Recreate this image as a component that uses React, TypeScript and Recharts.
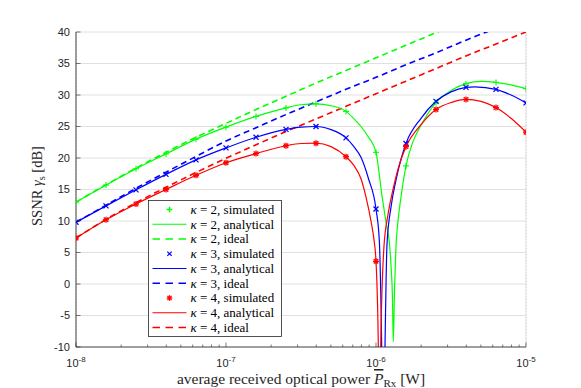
import React from 'react';
import { LineChart, Line, XAxis, YAxis, CartesianGrid, Legend } from 'recharts';

// received optical power grid of the simulation points (W)
const P_SIM = [1e-8, 1.585e-8, 2.512e-8, 3.981e-8, 6.31e-8, 1e-7, 1.585e-7, 2.512e-7, 3.981e-7, 6.31e-7, 1e-6, 1.585e-6, 2.512e-6, 3.981e-6, 6.31e-6, 1e-5];
const SIM_K2 = [13.0, 15.7, 18.3, 20.65, 23.0, 24.9, 26.6, 27.95, 28.6, 27.4, 20.9, 18.75, 28.8, 31.8, 32.0, 31.0];
const SIM_K3 = [9.8, 12.4, 14.95, 17.4, 19.7, 21.6, 23.3, 24.55, 25.0, 23.2, 11.9, 22.3, 29.0, 31.2, 30.9, 28.75];
const SIM_K4 = [7.3, 10.2, 12.7, 15.0, 17.25, 19.25, 20.7, 21.95, 22.35, 20.2, 3.6, 21.8, 27.7, 29.3, 28.0, 24.1];

// analytical curves (denser near the notch)
const ANA_K2_P = [1e-8, 1.585e-8, 2.512e-8, 3.981e-8, 6.31e-8, 1e-7, 1.585e-7, 2.512e-7, 3.162e-7, 3.981e-7, 5.012e-7, 6.31e-7, 7.079e-7, 7.943e-7, 8.913e-7, 1e-6, 1.0965e-6, 1.166e-6, 1.2266e-6, 1.2589e-6, 1.2882e-6, 1.304e-6, 1.3284e-6, 1.3594e-6, 1.4019e-6, 1.4678e-6, 1.585e-6, 1.765e-6, 1.995e-6, 2.512e-6, 3.162e-6, 3.981e-6, 5.012e-6, 6.31e-6, 7.943e-6, 1e-5];
const ANA_K2 = [13.0, 15.7, 18.3, 20.65, 23.0, 24.9, 26.6, 27.95, 28.45, 28.6, 28.3, 27.4, 26.3, 25.0, 23.3, 20.9, 14.0, 9.8, 6.6, 3.0, -2.5, -9.2, -1.0, 6.0, 10.0, 13.8, 18.75, 22.6, 25.2, 28.8, 30.7, 31.8, 32.15, 32.0, 31.6, 31.0];

const ANA_K3_P = [1e-8, 1.585e-8, 2.512e-8, 3.981e-8, 6.31e-8, 1e-7, 1.585e-7, 2.512e-7, 3.162e-7, 3.981e-7, 5.012e-7, 6.31e-7, 7.079e-7, 7.943e-7, 8.913e-7, 1e-6, 1.052e-6, 1.0914e-6, 1.1186e-6, 1.1482e-6, 1.1839e-6, 1.2589e-6, 1.3594e-6, 1.4678e-6, 1.585e-6, 1.995e-6, 2.512e-6, 3.162e-6, 3.981e-6, 4.571e-6, 6.31e-6, 7.943e-6, 1e-5];
const ANA_K3 = [9.8, 12.4, 14.95, 17.4, 19.7, 21.6, 23.3, 24.55, 24.9, 25.0, 24.5, 23.2, 21.9, 20.1, 16.7, 11.9, 6.9, -10, -30, -10, 6.3, 12.2, 16.5, 19.8, 22.3, 26.3, 29.0, 30.5, 31.2, 31.3, 30.9, 30.0, 28.75];

const ANA_K4_P = [1e-8, 1.585e-8, 2.512e-8, 3.981e-8, 6.31e-8, 1e-7, 1.585e-7, 2.512e-7, 3.162e-7, 3.981e-7, 5.012e-7, 6.31e-7, 7.079e-7, 7.943e-7, 8.577e-7, 9.26e-7, 9.698e-7, 1e-6, 1.0359e-6, 1.0551e-6, 1.0747e-6, 1.1305e-6, 1.2023e-6, 1.2981e-6, 1.4235e-6, 1.585e-6, 1.995e-6, 2.512e-6, 3.162e-6, 3.981e-6, 5.012e-6, 6.31e-6, 7.943e-6, 1e-5];
const ANA_K4 = [7.3, 10.2, 12.7, 15.0, 17.25, 19.25, 20.7, 21.95, 22.3, 22.35, 21.8, 20.2, 18.9, 16.7, 13.8, 10.0, 7.0, 3.6, -9.7, -30, -10, 6.0, 11.0, 15.0, 18.8, 21.8, 25.3, 27.7, 28.8, 29.3, 29.0, 28.0, 26.3, 24.1];

// ideal (no interference) curves
const IDEAL_K2 = [13.0, 15.75, 18.4, 20.9, 23.3, 25.5, 27.7, 29.8, 31.9, 33.9, 35.9, 37.9, 39.9, 41.9, 43.9, 45.9];
const IDEAL_K3 = [9.8, 12.5, 15.2, 17.75, 20.25, 22.7, 24.8, 26.9, 28.9, 30.9, 32.8, 34.8, 36.7, 38.7, 40.6, 42.5];
const IDEAL_K4 = [7.3, 10.25, 12.9, 15.35, 17.7, 19.95, 22.1, 24.2, 26.2, 28.2, 30.2, 32.2, 34.2, 36.2, 38.1, 40.0];

const X_TICKS = [
  1e-8, 2e-8, 3e-8, 4e-8, 5e-8, 6e-8, 7e-8, 8e-8, 9e-8,
  1e-7, 2e-7, 3e-7, 4e-7, 5e-7, 6e-7, 7e-7, 8e-7, 9e-7,
  1e-6, 2e-6, 3e-6, 4e-6, 5e-6, 6e-6, 7e-6, 8e-6, 9e-6,
  1e-5,
];
const X_MAJOR = [1e-8, 1e-7, 1e-6, 1e-5];
const Y_TICKS = [-10, -5, 0, 5, 10, 15, 20, 25, 30, 35, 40];

const GREEN = '#00ff00';
const BLUE = '#0000ff';
const RED = '#ff0000';
const AXIS = '#262626';

const PLOT_LEFT = 76;
const PLOT_RIGHT = 526;
const PLOT_TOP = 32;
const PLOT_BOTTOM = 347;

const SANS = '"Liberation Sans", Arial, Helvetica, sans-serif';
const SERIF = '"Liberation Serif", "Times New Roman", serif';

const zip = (xs: number[], ys: number[]) => xs.map((p, i) => ({ p, v: ys[i] }));

const isDecade = (v: number) => Math.abs(Math.log10(v) - Math.round(Math.log10(v))) < 1e-6;

function Plus({ cx, cy, color, r = 3, w = 1.1 }: any) {
  return (
    <g stroke={color} strokeWidth={w}>
      <line x1={cx - r} x2={cx + r} y1={cy} y2={cy} />
      <line x1={cx} x2={cx} y1={cy - r} y2={cy + r} />
    </g>
  );
}

function Cross({ cx, cy, color, r = 2.5 }: any) {
  return (
    <g stroke={color} strokeWidth={1.2}>
      <line x1={cx - r} x2={cx + r} y1={cy - r} y2={cy + r} />
      <line x1={cx - r} x2={cx + r} y1={cy + r} y2={cy - r} />
    </g>
  );
}

function Star({ cx, cy, color, r = 3 }: any) {
  const d = r * 0.75;
  return (
    <g stroke={color} strokeWidth={1.3}>
      <line x1={cx - r} x2={cx + r} y1={cy} y2={cy} />
      <line x1={cx} x2={cx} y1={cy - r} y2={cy + r} />
      <line x1={cx - d} x2={cx + d} y1={cy - d} y2={cy + d} />
      <line x1={cx - d} x2={cx + d} y1={cy + d} y2={cy - d} />
    </g>
  );
}

function XTickBottom(props: any) {
  const { x, payload } = props;
  const v = payload.value;
  const major = isDecade(v);
  const len = major ? 4.5 : 2.5;
  return (
    <g>
      <line x1={x} x2={x} y1={PLOT_BOTTOM} y2={PLOT_BOTTOM - len} stroke={AXIS} strokeWidth={0.6} />
      {major && (
        <text x={x} y={PLOT_BOTTOM + 20} textAnchor="middle" fontFamily={SANS} fontSize={11} fill={AXIS}>
          10<tspan dy={-5.5} fontSize={8}>{Math.round(Math.log10(v))}</tspan>
        </text>
      )}
    </g>
  );
}

function XTickTop(props: any) {
  const { x, payload } = props;
  const len = isDecade(payload.value) ? 4.5 : 2.5;
  return <line x1={x} x2={x} y1={PLOT_TOP} y2={PLOT_TOP + len} stroke={AXIS} strokeWidth={0.6} />;
}

function YTickLeft(props: any) {
  const { y, payload } = props;
  return (
    <g>
      <line x1={PLOT_LEFT} x2={PLOT_LEFT + 4.5} y1={y} y2={y} stroke={AXIS} strokeWidth={0.6} />
      <text x={PLOT_LEFT - 6} y={y} dy="0.36em" textAnchor="end" fontFamily={SANS} fontSize={11} fill={AXIS}>
        {payload.value}
      </text>
    </g>
  );
}

function YTickRight(props: any) {
  const { y } = props;
  return <line x1={PLOT_RIGHT - 4.5} x2={PLOT_RIGHT} y1={y} y2={y} stroke={AXIS} strokeWidth={0.6} />;
}

const LEGEND_ROWS = [
  { k: 2, label: 'simulated', color: GREEN, kind: 'plus' },
  { k: 2, label: 'analytical', color: GREEN, kind: 'solid' },
  { k: 2, label: 'ideal', color: GREEN, kind: 'dash' },
  { k: 3, label: 'simulated', color: BLUE, kind: 'cross' },
  { k: 3, label: 'analytical', color: BLUE, kind: 'solid' },
  { k: 3, label: 'ideal', color: BLUE, kind: 'dash' },
  { k: 4, label: 'simulated', color: RED, kind: 'star' },
  { k: 4, label: 'analytical', color: RED, kind: 'solid' },
  { k: 4, label: 'ideal', color: RED, kind: 'dash' },
];

function LegendBox() {
  const w = 134;
  const h = 137;
  return (
    <svg width={w} height={h} style={{ display: 'block' }}>
      <rect x={0.5} y={0.5} width={w - 1} height={h - 1} fill="#fff" stroke={AXIS} strokeWidth={0.8} />
      {LEGEND_ROWS.map((r, i) => {
        const cy = 9.5 + i * 14.75;
        let icon;
        if (r.kind === 'plus') icon = <Plus cx={21.5} cy={cy} color={r.color} r={2.8} w={1.5} />;
        else if (r.kind === 'cross') icon = <Cross cx={21.5} cy={cy} color={r.color} r={2.2} />;
        else if (r.kind === 'star') icon = <Star cx={21.5} cy={cy} color={r.color} r={2.8} />;
        else
          icon = (
            <line x1={4.5} x2={38.5} y1={cy} y2={cy} stroke={r.color} strokeWidth={r.kind === 'dash' ? 1.6 : 1.2}
              strokeDasharray={r.kind === 'dash' ? '7.5 5.5' : undefined} />
          );
        return (
          <g key={i}>
            {icon}
            <text x={42.5} y={cy} dy="0.34em" fontFamily={SERIF} fontSize={13} fill="#000">
              <tspan fontStyle="italic">κ</tspan> = {r.k}, {r.label}
            </text>
          </g>
        );
      })}
    </svg>
  );
}

function XLabel() {
  return (
    <text x={(PLOT_LEFT + PLOT_RIGHT) / 2} y={384} textAnchor="middle" fontFamily={SERIF} fontSize={15.5} fill={AXIS}>
      average received optical power{' '}
      <tspan fontStyle="italic" style={{ textDecoration: 'overline' }}>P</tspan>
      <tspan fontSize={11} dy={3}>Rx</tspan>
      <tspan dy={-3}> [W]</tspan>
    </text>
  );
}

function YLabel() {
  const cx = 42;
  const cy = 186;
  return (
    <text x={cx} y={cy} transform={`rotate(-90, ${cx}, ${cy})`} textAnchor="middle" fontFamily={SERIF} fontSize={14.5} fill={AXIS}>
      SSNR <tspan fontStyle="italic">γ</tspan>
      <tspan fontSize={10.5} dy={3}>s</tspan>
      <tspan dy={-3}> [dB]</tspan>
    </text>
  );
}

export default function App() {
  const simK2 = zip(P_SIM, SIM_K2);
  const simK3 = zip(P_SIM, SIM_K3);
  const simK4 = zip(P_SIM, SIM_K4);
  const anaK2 = zip(ANA_K2_P, ANA_K2);
  const anaK3 = zip(ANA_K3_P, ANA_K3);
  const anaK4 = zip(ANA_K4_P, ANA_K4);
  const idK2 = zip(P_SIM, IDEAL_K2);
  const idK3 = zip(P_SIM, IDEAL_K3);
  const idK4 = zip(P_SIM, IDEAL_K4);

  return (
    <div style={{ position: 'absolute', left: 0, top: 0, background: '#fff' }}>
      <LineChart width={581} height={388} margin={{ top: 32, right: 55, bottom: 11, left: 36 }}>
        <CartesianGrid xAxisId="all" stroke="#c8c8c8" strokeDasharray="1 2" horizontal={false} />
        <CartesianGrid xAxisId="major" stroke="#e0e0e0" />
        <XAxis xAxisId="all" dataKey="p" type="number" scale="log" domain={[1e-8, 1e-5]} allowDataOverflow
          ticks={X_TICKS} interval={0} height={0} tick={false} axisLine={false} tickLine={false} />
        <XAxis xAxisId="major" dataKey="p" type="number" scale="log" domain={[1e-8, 1e-5]} allowDataOverflow
          ticks={X_MAJOR} interval={0} height={0} tick={false} axisLine={false} tickLine={false} />
        <XAxis dataKey="p" type="number" scale="log" domain={[1e-8, 1e-5]} allowDataOverflow
          ticks={X_TICKS} interval={0} height={30} tickLine={false} tick={<XTickBottom />}
          axisLine={{ stroke: AXIS, strokeWidth: 0.8 }} label={{ content: () => <XLabel /> }} />
        <XAxis xAxisId="top" orientation="top" dataKey="p" type="number" scale="log" domain={[1e-8, 1e-5]} allowDataOverflow
          ticks={X_TICKS} interval={0} height={0} tickLine={false} tick={<XTickTop />}
          axisLine={{ stroke: AXIS, strokeWidth: 0.8 }} />
        <YAxis type="number" domain={[-10, 40]} allowDataOverflow ticks={Y_TICKS} interval={0} width={40}
          tickLine={false} tick={<YTickLeft />} axisLine={{ stroke: AXIS, strokeWidth: 0.8 }}
          label={{ content: () => <YLabel /> }} />
        <YAxis yAxisId="right" orientation="right" type="number" domain={[-10, 40]} allowDataOverflow ticks={Y_TICKS}
          interval={0} width={0} tickLine={false} tick={<YTickRight />} axisLine={{ stroke: AXIS, strokeWidth: 0.8 }} />

        <Line data={idK2} dataKey="v" type="monotone" stroke={GREEN} strokeWidth={1.6} strokeDasharray="6 4" dot={false} activeDot={false} isAnimationActive={false} />
        <Line data={idK3} dataKey="v" type="monotone" stroke={BLUE} strokeWidth={1.6} strokeDasharray="6 4" dot={false} activeDot={false} isAnimationActive={false} />
        <Line data={idK4} dataKey="v" type="monotone" stroke={RED} strokeWidth={1.6} strokeDasharray="6 4" dot={false} activeDot={false} isAnimationActive={false} />

        <Line data={anaK2} dataKey="v" type="monotone" stroke={GREEN} strokeWidth={1.2} dot={false} activeDot={false} isAnimationActive={false} />
        <Line data={anaK3} dataKey="v" type="monotone" stroke={BLUE} strokeWidth={1.2} dot={false} activeDot={false} isAnimationActive={false} />
        <Line data={anaK4} dataKey="v" type="monotone" stroke={RED} strokeWidth={1.2} dot={false} activeDot={false} isAnimationActive={false} />

        <Line data={simK2} dataKey="v" stroke="none" activeDot={false} isAnimationActive={false}
          dot={(d: any) => <Plus key={`g${d.index}`} cx={d.cx} cy={d.cy} color={GREEN} />} />
        <Line data={simK3} dataKey="v" stroke="none" activeDot={false} isAnimationActive={false}
          dot={(d: any) => <Cross key={`b${d.index}`} cx={d.cx} cy={d.cy} color={BLUE} />} />
        <Line data={simK4} dataKey="v" stroke="none" activeDot={false} isAnimationActive={false}
          dot={(d: any) => <Star key={`r${d.index}`} cx={d.cx} cy={d.cy} color={RED} />} />

        <Legend layout="horizontal" verticalAlign="middle" align="center" content={() => <LegendBox />}
          wrapperStyle={{ left: 148, top: 200, width: 134, height: 137 }} />
      </LineChart>
    </div>
  );
}
